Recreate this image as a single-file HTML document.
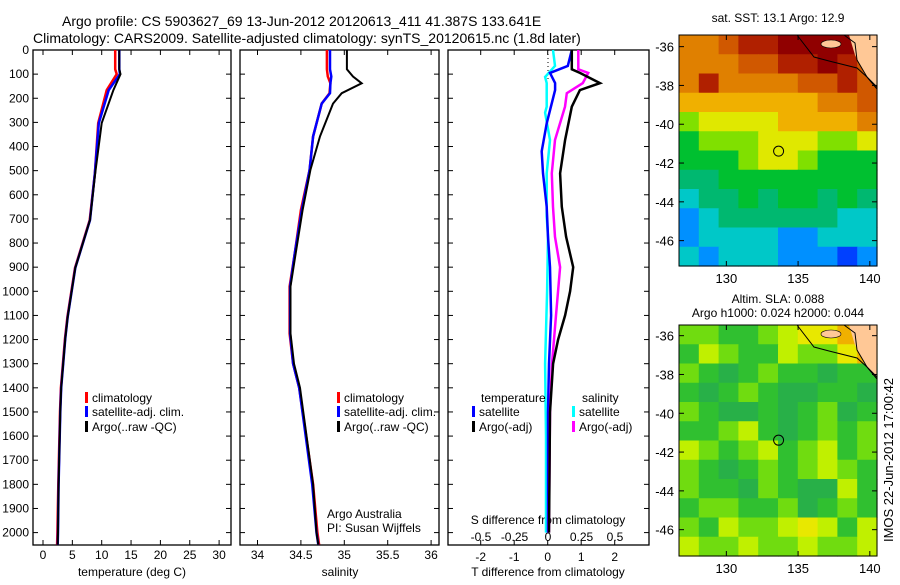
<!DOCTYPE html>
<html><head><meta charset="utf-8">
<style>
body{margin:0;background:#fff;}
svg text{font-family:"Liberation Sans",sans-serif;fill:#000;}
</style></head>
<body>
<svg id="fig" width="900" height="580" viewBox="0 0 900 580" xmlns="http://www.w3.org/2000/svg">
<g font-size="14">
<text x="62" y="26">Argo profile: CS 5903627_69 13-Jun-2012 20120613_411 41.387S 133.641E</text>
<text x="33" y="43">Climatology: CARS2009. Satellite-adjusted climatology: synTS_20120615.nc (1.8d later)</text>
</g>
<g id="panels"></g>
<g id="maps"></g>
</svg>
<script>
// ---------- data ----------
const depthTicks=[0,100,200,300,400,500,600,700,800,900,1000,1100,1200,1300,1400,1500,1600,1700,1800,1900,2000];
const tTicks=[0,5,10,15,20,25,30];
const sTicks=[34,34.5,35,35.5,36];
const sTickLabels=["34","34.5","35","35.5","36"];
const dTicks=[-2,-1,0,1,2];
const dsTicks=[-0.5,-0.25,0,0.25,0.5];
const dsTickLabels=["-0.5","-0.25","0","0.25","0.5"];

const tDepth=[0,80,100,166,303,510,705,903,1106,1195,1400,1500,1800,2000,2050];
const tArgo=[13.0,13.0,13.2,12.0,10.0,8.9,8.0,5.5,4.2,3.8,3.1,2.95,2.65,2.55,2.5];
const tClim=[12.3,12.3,12.55,10.85,9.4,8.85,7.95,5.45,4.15,3.75,3.05,2.9,2.6,2.45,2.4];
const tSat=[13.0,13.0,13.1,11.2,9.5,8.85,8.0,5.5,4.2,3.8,3.1,2.95,2.65,2.55,2.5];

const sDepth=[0,80,110,138,179,222,358,497,663,842,980,1175,1300,1400,1800,2000,2050];
const sArgo=[35.03,35.03,35.10,35.20,34.97,34.87,34.72,34.61,34.52,34.44,34.38,34.38,34.42,34.49,34.64,34.68,34.70];
const sClim=[34.80,34.80,34.81,34.84,34.83,34.74,34.64,34.60,34.50,34.43,34.37,34.37,34.41,34.48,34.64,34.69,34.71];
const sSat=[34.835,34.835,34.85,34.84,34.835,34.74,34.64,34.60,34.51,34.43,34.375,34.375,34.41,34.48,34.63,34.68,34.70];

const dtArgoDepth=[0,80,95,137,166,235,373,511,650,774,900,1000,1100,1200,1300,1500,2000];
const dtArgo=[0.72,0.72,0.96,1.56,0.96,0.72,0.52,0.37,0.42,0.55,0.76,0.67,0.52,0.31,0.16,0.07,0.04];
const dtSatDepth=[0,66,95,137,166,304,420,511,650,774,900,1100,1300,1500,2000];
const dtSat=[0.72,0.6,0.07,0.22,0.22,-0.03,-0.18,-0.14,-0.03,0.01,0.07,0.1,0.04,0.01,0.01];
const dsArgoDepth=[0,80,95,137,179,235,373,511,650,774,900,1100,1300,1500,2000];
const dsArgo=[0.226,0.226,0.30,0.26,0.14,0.127,0.052,0.028,0.037,0.052,0.09,0.06,0.03,0.015,0.007];
const dsSatDepth=[0,66,112,137,235,260,373,511,690,774,1000,1300,1600,2000];
const dsSat=[0.037,0.052,-0.022,-0.01,-0.01,-0.022,0.015,-0.01,-0.01,0,-0.007,-0.022,-0.015,-0.015];

const sstColors=["#000090","#0040ff","#0090ff","#00c8c8","#00b870","#00c030","#80e000","#e0e800","#f0b000","#e08000","#d05800","#b02000","#900000"];
const sstGrid=[
[9,9,10,11,11,12,12,12,12,9],
[9,9,9,10,10,11,11,12,11,10],
[9,11,9,9,9,9,10,10,11,10],
[8,8,8,8,8,8,8,9,9,10],
[6,7,7,7,7,8,8,8,8,9],
[5,6,6,6,7,7,7,6,6,7],
[5,5,5,6,7,7,6,5,5,5],
[4,4,5,5,5,5,5,5,5,5],
[3,4,4,5,4,5,5,4,5,4],
[2,3,4,4,4,4,4,4,3,3],
[2,3,3,3,3,2,2,3,3,3],
[3,2,3,3,3,2,2,2,1,2]];
const slaColors=["#28b048","#30c030","#70dc10","#c0f000","#e8e800","#f0b000"];
const slaGrid=[
[2,2,1,1,2,3,4,4,5,5],
[1,3,2,1,1,3,2,2,4,5],
[2,1,0,1,2,1,1,0,1,1],
[1,0,1,2,1,0,0,1,1,0],
[2,1,0,0,1,0,1,2,0,1],
[1,1,2,3,1,0,1,2,1,2],
[3,2,1,2,3,1,2,3,1,2],
[2,1,0,1,2,1,2,3,2,1],
[2,1,1,0,2,1,0,0,3,1],
[1,2,2,1,1,2,0,1,2,1],
[2,1,3,2,2,3,4,3,1,3],
[3,2,2,3,2,2,3,2,2,3]];
const latTicks=[-36,-38,-40,-42,-44,-46];
const lonTicks=[130,135,140];
const argoLon=133.641, argoLat=-41.387;

// ---------- helpers ----------
const NS="http://www.w3.org/2000/svg";
function mk(tag,attrs,parent){const e=document.createElementNS(NS,tag);for(const k in attrs)e.setAttribute(k,attrs[k]);parent.appendChild(e);return e;}
const Y0=50, PXM=0.2413, YB=545;
const yD=d=>Y0+d*PXM;
const panels=document.getElementById('panels');

function frame(x0,x1,name){
  const g=mk('g',{},panels);
  
  
  const r=mk('rect',{x:x0,y:Y0,width:x1-x0,height:YB-Y0,fill:'none',stroke:'#000','stroke-width':1.3},g);
  
  
  depthTicks.forEach(d=>{mk('line',{x1:x0,x2:x0+5,y1:yD(d),y2:yD(d),stroke:'#000'},g);mk('line',{x1:x1,x2:x1-5,y1:yD(d),y2:yD(d),stroke:'#000'},g);});
  return g;
}
function xticks(g,ticks,labels,fx,ly,topTicks){
  ticks.forEach((v,i)=>{const x=fx(v);
    mk('line',{x1:x,x2:x,y1:YB,y2:YB-5,stroke:'#000'},g);
    if(topTicks)mk('line',{x1:x,x2:x,y1:Y0,y2:Y0+5,stroke:'#000'},g);
    if(ly){const t=mk('text',{x:x,y:ly,'text-anchor':'middle','font-size':12},g);t.textContent=labels[i];
      
      }
  });
}
function line(g,depths,vals,fx,color,name,w){
  const pts=depths.map((d,i)=>fx(vals[i]).toFixed(1)+','+yD(d).toFixed(1)).join(' ');
  const p=mk('polyline',{points:pts,fill:'none',stroke:color,'stroke-width':w||2.5,'stroke-linejoin':'miter'},g);
  
  
}
function txt(g,x,y,s,name,anchor,size){const t=mk('text',{x:x,y:y,'font-size':size||12,'text-anchor':anchor||'start'},g);t.textContent=s;
  
  return t;}
function legend(g,x,y,color,label,name){mk('rect',{x:x,y:y-10,width:3,height:11,fill:color},g);const t=txt(g,x+7,y,label,name);}

// depth axis labels
const ya=mk('g',{},panels);


depthTicks.forEach(d=>{txt(ya,29,yD(d)+4,String(d),'depth-tick-label','end');});

// Panel 1 temperature
const fT=v=>43+v*5.87;
const g1=frame(33,231,'temperature-panel');
xticks(g1,tTicks,tTicks.map(String),fT,559,true);
txt(g1,132,576,'temperature (deg C)','x-axis-title-temperature','middle');
line(g1,tDepth,tClim,fT,'#ff0000','temperature-climatology-line');
line(g1,tDepth,tSat,fT,'#0000ff','temperature-satellite-line');
line(g1,tDepth,tArgo,fT,'#000000','temperature-argo-line',2);
legend(g1,85,402,'#ff0000','climatology','legend-climatology');
legend(g1,85,416,'#0000ff','satellite-adj. clim.','legend-satellite');
legend(g1,85,431,'#000000','Argo(..raw -QC)','legend-argo');

// Panel 2 salinity
const fS=v=>257.5+(v-34)*86.8;
const g2=frame(240,439,'salinity-panel');
xticks(g2,sTicks,sTickLabels,fS,559,true);
txt(g2,340,576,'salinity','x-axis-title-salinity','middle');
line(g2,sDepth,sClim,fS,'#ff0000','salinity-climatology-line');
line(g2,sDepth,sSat,fS,'#0000ff','salinity-satellite-line');
line(g2,sDepth,sArgo,fS,'#000000','salinity-argo-line',2);
legend(g2,337,402,'#ff0000','climatology','legend-climatology-s');
legend(g2,337,416,'#0000ff','satellite-adj. clim.','legend-satellite-s');
legend(g2,337,431,'#000000','Argo(..raw -QC)','legend-argo-s');
txt(g2,327,518,'Argo Australia','credit-argo-australia');
txt(g2,327,532,'PI: Susan Wijffels','credit-pi');

// Panel 3 differences
const fDT=v=>547.7+v*33.5;
const fDS=v=>548+v*134;
const g3=frame(448,649,'difference-panel');
xticks(g3,dTicks,dTicks.map(String),fDT,561,true);
dsTicks.forEach((v,i)=>{txt(g3,fDS(v),541,dsTickLabels[i],'s-tick-label','middle');});
mk('line',{x1:548,x2:548,y1:Y0,y2:yD(120),stroke:'#000','stroke-dasharray':'1,3'},g3);
txt(g3,548,524,'S difference from climatology','s-axis-title','middle');
txt(g3,548,576,'T difference from climatology','t-axis-title','middle');
line(g3,dsSatDepth,dsSat,fDS,'#00ffff','s-diff-satellite-line');
line(g3,dtSatDepth,dtSat,fDT,'#0000ff','t-diff-satellite-line');
line(g3,dsArgoDepth,dsArgo,fDS,'#ff00ff','s-diff-argo-line');
line(g3,dtArgoDepth,dtArgo,fDT,'#000000','t-diff-argo-line');
txt(g3,481,402,'temperature','legend-title-temperature');
txt(g3,582,402,'salinity','legend-title-salinity');
legend(g3,472,416,'#0000ff','satellite','legend-t-satellite');
legend(g3,472,431,'#000000','Argo(-adj)','legend-t-argo');
legend(g3,572,416,'#00ffff','satellite','legend-s-satellite');
legend(g3,572,431,'#ff00ff','Argo(-adj)','legend-s-argo');

// ---------- maps ----------
const maps=document.getElementById('maps');
const MX0=679,MX1=877,LON0=126.7,LON1=140.5;
const fLon=l=>MX0+(l-LON0)/(LON1-LON0)*(MX1-MX0);
function drawMap(top,lat0,grid,colors,name,labY){
  const g=mk('g',{},maps);
  
  
  const H=231,bot=top+H;
  const fLat=l=>top+(lat0-l)*19.4;
  const rows=grid.length,cols=grid[0].length,cw=(MX1-MX0)/cols,ch=H/rows;
  grid.forEach((row,r)=>row.forEach((v,c)=>{
    const cell=mk('rect',{x:(MX0+c*cw).toFixed(2),y:(top+r*ch).toFixed(2),width:(cw+0.6).toFixed(2),height:(ch+0.6).toFixed(2),fill:colors[v]},g);
    
    
  }));
  // land
  const land=mk('polygon',{points:`${MX0+170},${top} ${MX1},${top} ${MX1},${top+52} ${MX0+185},${top+38} ${MX0+176},${top+20}`,fill:'#ffc896'},g);
  
  
  const isl=mk('ellipse',{cx:MX0+152,cy:top+9,rx:10,ry:4,fill:'#ffc896',stroke:'#000','stroke-width':0.6},g);
  
  
  mk('polyline',{points:`${MX0+118},${top} ${MX0+135},${top+22} ${MX0+150},${top+26} ${MX0+178},${top+33} ${MX0+188},${top+42} ${MX1},${top+54}`,fill:'none',stroke:'#000','stroke-width':1},g);
  mk('polyline',{points:`${MX0+165},${top} ${MX0+176},${top+8} ${MX0+178},${top+25} ${MX0+188},${top+42} ${MX1},${top+52}`,fill:'none',stroke:'#000','stroke-width':1},g);
  mk('rect',{x:MX0,y:top,width:MX1-MX0,height:H,fill:'none',stroke:'#000'},g);
  latTicks.forEach(l=>{const y=fLat(l);mk('line',{x1:MX0,x2:MX0+5,y1:y,y2:y,stroke:'#000'},g);mk('line',{x1:MX1,x2:MX1-5,y1:y,y2:y,stroke:'#000'},g);
    txt(g,674,y+5,String(l),'lat-tick-label','end',13);});
  lonTicks.forEach(l=>{const x=fLon(l);mk('line',{x1:x,x2:x,y1:bot,y2:bot-5,stroke:'#000'},g);mk('line',{x1:x,x2:x,y1:top,y2:top+5,stroke:'#000'},g);
    txt(g,x,labY,String(l),'lon-tick-label','middle',13);});
  const c=mk('circle',{cx:fLon(argoLon),cy:fLat(argoLat),r:5,fill:'none',stroke:'#000','stroke-width':1},g);
  
  
}
drawMap(35,-35.4,sstGrid,sstColors,'sst-map',283);
drawMap(325,-35.45,slaGrid,slaColors,'sla-map',573);
txt(maps,778,22,'sat. SST: 13.1 Argo: 12.9','sst-map-title','middle');
txt(maps,778,303,'Altim. SLA: 0.088','sla-map-title','middle');
txt(maps,778,317,'Argo h1000: 0.024 h2000: 0.044','sla-map-subtitle','middle');
const stamp=txt(maps,0,0,'IMOS 22-Jun-2012 17:00:42','imos-timestamp','middle',13);
stamp.setAttribute('transform','translate(893,460) rotate(-90)');
</script>
</body></html>
